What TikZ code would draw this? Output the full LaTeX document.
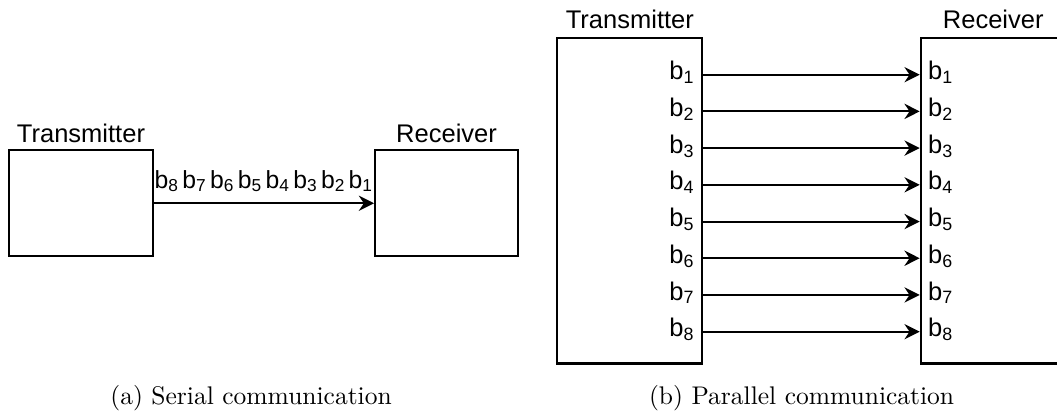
\documentclass[tikz,border=0pt]{standalone}
\usepackage{fontspec}
\newfontfamily\diofont{Liberation Sans}
\usetikzlibrary{arrows.meta,positioning}
\newcommand{\bitlbl}[1]{b\textsubscript{#1}}
\tikzset{
  % Transmitter / receiver block. Plain, no fill colour.
  comm/box/.style={
    draw=black, fill=white, line width=0.8pt, inner sep=0pt
  },
  % Block title, set on its baseline just over the block.
  comm/name/.style={
    font=\diofont, inner sep=0pt, text=black
  },
  % Bit labels next to the wires.
  comm/bit/.style={
    font=\diofont, inner sep=0pt, text=black
  },
  % Wires.
  comm/arrow/.style={
    -{Stealth[length=2.1mm,width=2.1mm,inset=0.7mm]}, line width=0.8pt, draw=black
  },
  % Sub-figure caption, in the body font.
  comm/caption/.style={
    font=\normalsize, inner sep=0pt, anchor=base
  },
}

\begin{document}
\begin{tikzpicture}[x=1mm,y=1mm]
  \useasboundingbox (0,0) rectangle (145.65,56.77);
  % (a) serial link
  \node[comm/box, minimum width=19.84mm, minimum height=14.6mm] (stx) at (11.16,28.76) {};
  \node[comm/box, minimum width=19.7mm, minimum height=14.6mm]  (srx) at (61.53,28.76) {};
  \node[comm/name, above=1.0mm of stx.north, anchor=base] (stxname) {Transmitter};
  \node[comm/name, above=1.0mm of srx.north, anchor=base] (srxname) {Receiver};
  \draw[comm/arrow] (stx) -- node[comm/bit, font=\diofont\fontsize{9.7}{11}\selectfont,
       anchor=base, yshift=2.1mm] (sbits)
       {\bitlbl{8}\kern1.2pt \bitlbl{7}\kern1.2pt \bitlbl{6}\kern1.2pt \bitlbl{5}\kern1.2pt
        \bitlbl{4}\kern1.2pt \bitlbl{3}\kern1.2pt \bitlbl{2}\kern1.2pt \bitlbl{1}} (srx);
  \node[comm/caption] (capa) at (34.59,1.1) {(a) Serial communication};

  % (b) parallel link, one wire per bit
  \node[comm/box, minimum width=19.98mm, minimum height=44.9mm] (ptx) at (86.79,29.13) {};
  \node[comm/box, minimum width=19.98mm, minimum height=44.9mm] (prx) at (136.86,29.13) {};
  \node[comm/name, above=1.15mm of ptx.north, anchor=base] (ptxname) {Transmitter};
  \node[comm/name, above=1.15mm of prx.north, anchor=base] (prxname) {Receiver};
  \foreach \i in {1,...,8} {
    \pgfmathsetmacro\yy{46.48-5.059*(\i-1)}
    \coordinate (tb\i) at (ptx.east |- 0,\yy);
    \coordinate (rb\i) at (prx.west |- 0,\yy);
    \draw[comm/arrow] (tb\i) -- (rb\i);
    \node[comm/bit, anchor=base east, xshift=-1.1mm, yshift=-2pt] (tl\i) at (tb\i) {\bitlbl{\i}};
    \node[comm/bit, anchor=base west, xshift=1.1mm, yshift=-2pt]  (rl\i) at (rb\i) {\bitlbl{\i}};
  }
  \node[comm/caption] (capb) at (110.45,1.1) {(b) Parallel communication};
\end{tikzpicture}
\end{document}
